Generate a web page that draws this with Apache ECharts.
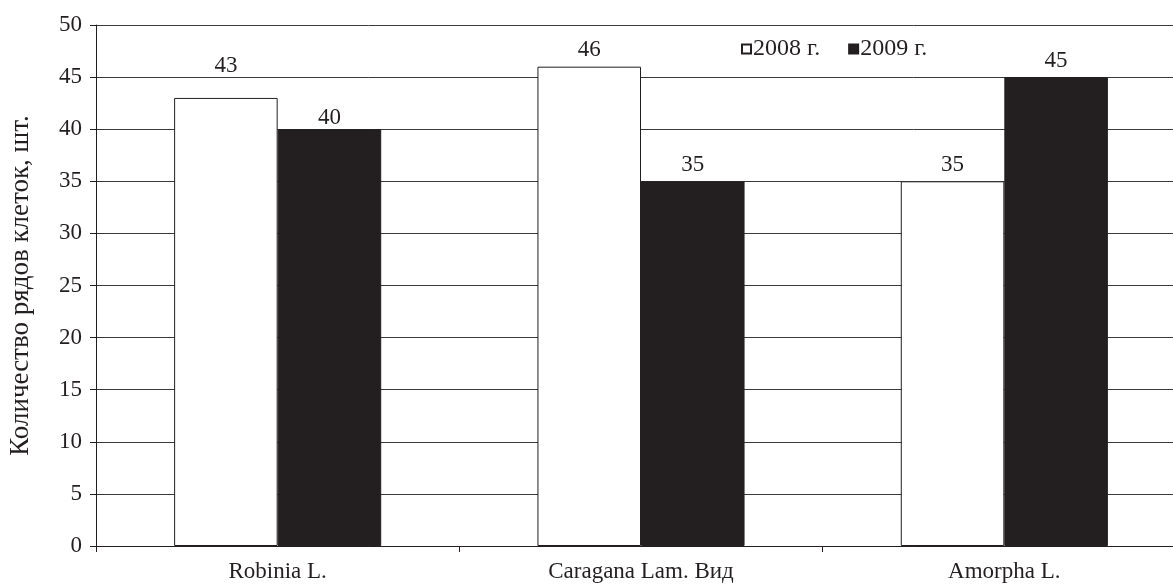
<!DOCTYPE html>
<html>
<head>
<meta charset="utf-8">
<script src="https://cdn.jsdelivr.net/npm/echarts@6/dist/echarts.min.js"></script>
<style>
html,body{margin:0;padding:0;background:#fff;overflow:hidden;width:1173px;height:585px;}
#chart{width:1190px;height:585px;}
</style>
</head>
<body>
<div id="chart"></div>
<script>
// Genera of woody plants and number of cell rows per year
const categories = ['Robinia L.', 'Caragana Lam. Вид', 'Amorpha L.'];
const values2008 = [43, 46, 35];
const values2009 = [40, 35, 45];
const seriesNames = ['2008 г.', '2009 г.'];
const yAxisTitle = 'Количество рядов клеток, шт.';

const ink = '#231f20';
const gridInk = '#3a3a3a';
const font = '"Liberation Serif", "Times New Roman", serif';
const fs = 23;

// Robinia labels: 2008 lifted clear of the 45 gridline, 2009 set closer to its bar
const data2008 = values2008.map((v, i) =>
  i === 0 ? { value: v, label: { offset: [0, -15] } } : v);
const data2009 = values2009.map((v, i) =>
  i === 0 ? { value: v, label: { offset: [0, 5] } } : v);

const chart = echarts.init(document.getElementById('chart'));
chart.setOption({
  animation: false,
  backgroundColor: '#fff',
  textStyle: { fontFamily: font, color: ink },
  grid: { left: 96, top: 25, width: 1090, height: 521, containLabel: false, outerBoundsMode: 'none' },
  legend: {
    data: seriesNames,
    left: 736, top: 37, padding: [0, 5, 0, 5],
    icon: 'rect', itemWidth: 9, itemHeight: 9, itemGap: 28,
    textStyle: { fontFamily: font, fontSize: 24, color: ink, padding: [0, 0, 0, -3] }
  },
  xAxis: {
    type: 'category',
    data: categories,
    axisLine: { lineStyle: { color: ink, width: 1 } },
    axisTick: { show: true, length: 6, alignWithLabel: false, lineStyle: { color: ink } },
    axisLabel: { fontFamily: font, fontSize: fs, color: ink, margin: 14 }
  },
  yAxis: {
    type: 'value',
    min: 0, max: 50, interval: 5,
    name: yAxisTitle,
    nameLocation: 'middle',
    nameGap: 62,
    nameTextStyle: { fontFamily: font, fontSize: 27, color: ink },
    axisLine: { show: true, lineStyle: { color: ink, width: 1 } },
    axisTick: { show: true, length: 6, lineStyle: { color: ink } },
    axisLabel: { fontFamily: font, fontSize: fs, color: ink, margin: 14 },
    splitLine: { lineStyle: { color: gridInk, width: 1 } }
  },
  series: [
    {
      name: seriesNames[0], type: 'bar', data: data2008,
      barGap: '0%', barCategoryGap: '43%',
      itemStyle: { color: '#fff', borderColor: ink, borderWidth: 1 },
      label: { show: true, position: 'top', distance: 5, fontFamily: font, fontSize: fs, color: ink }
    },
    {
      name: seriesNames[1], type: 'bar', data: data2009,
      barGap: '0%', barCategoryGap: '43%',
      itemStyle: { color: ink, borderColor: ink, borderWidth: 1 },
      label: { show: true, position: 'top', distance: 5, fontFamily: font, fontSize: fs, color: ink }
    }
  ]
});
</script>
</body>
</html>
